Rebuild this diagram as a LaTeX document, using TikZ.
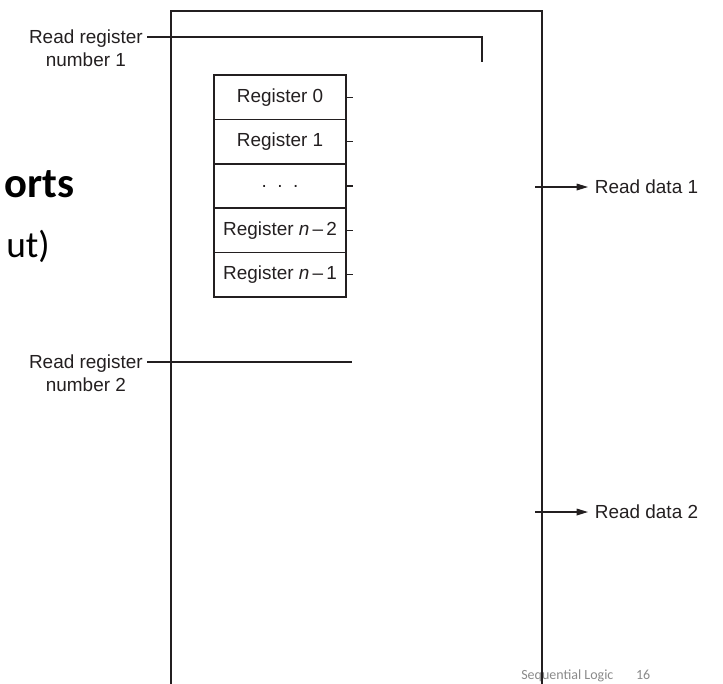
\documentclass[tikz,border=0pt]{standalone}
\usepackage{fontspec}
\setmainfont{Liberation Sans}
\newfontfamily\slidefont{Carlito}
\usetikzlibrary{arrows.meta,positioning,calc}
\definecolor{Ink}{HTML}{231F20}
\definecolor{Foot}{HTML}{8A8A8A}

\begin{document}
\begin{tikzpicture}[x=0.75pt,y=-0.75pt,
  lbl/.style={font=\fontsize{14.2}{17}\selectfont,text=Ink,align=center,inner xsep=3pt,inner ysep=0pt},
  reg/.style={draw=Ink,line width=1.3pt,minimum width=99pt,minimum height=33.3pt,inner sep=0pt,font=\fontsize{14.2}{17}\selectfont,text=Ink},
  wire/.style={Ink,line width=0.9pt},
  outarrow/.style={wire,-{Triangle[length=8.5pt,width=5pt]}}]
\useasboundingbox (0,0) rectangle (723,683);
% slide text behind the figure
\node[anchor=base east,inner sep=0pt,font=\slidefont\bfseries\fontsize{32}{36}\selectfont] (title) at (75,197) {orts};
\node[anchor=base east,inner sep=0pt,font=\slidefont\fontsize{28}{32}\selectfont] (sub) at (50,257) {ut)};
\node[anchor=base west,inner sep=0pt,font=\slidefont\fontsize{10.5}{12}\selectfont,text=Foot] (foot) at (521,679) {Sequential Logic\hspace{17pt}16};
% register file frame
\draw[Ink,line width=1.7pt] (171,684) |- (542,11) -- (542,684);
% registers
\foreach \i/\t in {0/Register 0,1/Register 1,2/{.\ \ .\ \ .},3/{Register \textit{n}\,–\,2},4/{Register \textit{n}\,–\,1}} {
  \node[reg] (r\i) at (280,{97.2+44.4*\i}) {\t};
  \draw[wire] (r\i.east) -- ++(6,0);
}
% read ports
\node[lbl,anchor=east] (rr1) at (147,48.5) {Read register\\number 1};
\node[lbl,anchor=east] (rr2) at (147,373.5) {Read register\\number 2};
\coordinate (bend1) at (482,37);
\coordinate (in1) at (482,62);
\coordinate (in2) at (352,362);
\draw[wire] (rr1.east |- bend1) -- (bend1) -- (in1);
\draw[wire] (rr2.east |- in2) -- (in2);
% outputs
\node[lbl,anchor=west,inner xsep=5pt] (rd1) at (588,187) {Read data 1};
\node[lbl,anchor=west,inner xsep=5pt] (rd2) at (588,512) {Read data 2};
\coordinate (out1) at (535,187);
\coordinate (out2) at (535,512);
\draw[outarrow] (out1) -- (rd1.west);
\draw[outarrow] (out2) -- (rd2.west);
\end{tikzpicture}
\end{document}
